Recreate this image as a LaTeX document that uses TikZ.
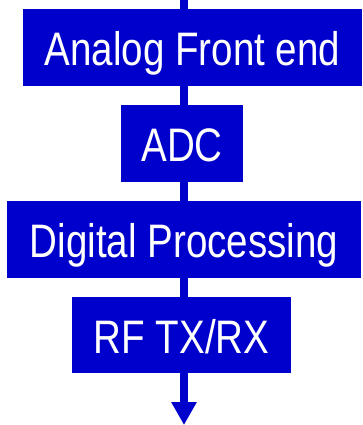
\documentclass[tikz,border=0pt]{standalone}
\usepackage{fontspec}
\newfontfamily\narrowfont{Liberation Sans}[FakeStretch=0.82]
\usetikzlibrary{arrows.meta}
\definecolor{chainblue}{RGB}{0,0,204}

\begin{document}
\begin{tikzpicture}[x=1pt,y=-1pt,
    stage/.style={fill=chainblue,text=white,inner sep=0pt,minimum height=77pt,
        text height=36.4pt,text depth=0pt,
        font=\narrowfont\fontsize{47}{50}\selectfont},
    link/.style={draw=chainblue,line width=8pt}]
    \useasboundingbox (0,0) rectangle (362,425);

    % the stages, top to bottom
    \node[stage,minimum width=339pt] (afe) at (192.5,47.5) {Analog Front end};
    \node[stage,minimum width=122pt] (adc) at (182,143.5) {ADC};
    \node[stage,minimum width=354pt] (dsp) at (184,239.5) {Digital Processing};
    \node[stage,minimum width=219pt,minimum height=76pt] (rf) at (181.5,335) {RF TX/RX};

    % where the signal comes in and goes out
    \coordinate (in) at (184,0);
    \coordinate (out) at (184,425);

    % draw the links
    \draw[link] (in) -- (afe.north -| in);
    \draw[link] (afe.south -| in) -- (adc.north -| in);
    \draw[link] (adc.south -| in) -- (dsp.north -| in);
    \draw[link] (dsp.south -| in) -- (rf.north -| in);
    \draw[link,-{Triangle[width=24pt,length=23pt]}] (rf.south -| in) -- (out);
\end{tikzpicture}
\end{document}
